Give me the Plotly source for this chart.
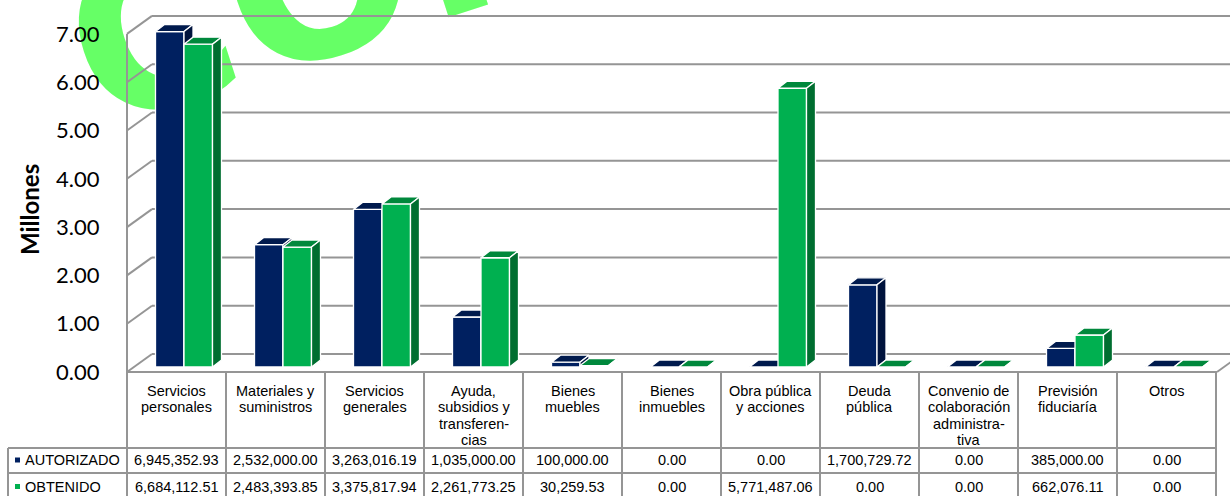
import plotly.graph_objects as go

# ---------------- data ----------------
categories = ["Servicios<br>personales", "Materiales y<br>suministros", "Servicios<br>generales",
              "Ayuda,<br>subsidios y<br>transferen-<br>cias", "Bienes<br>muebles", "Bienes<br>inmuebles",
              "Obra pública<br>y acciones", "Deuda<br>pública",
              "Convenio de<br>colaboración<br>administra-<br>tiva", "Previsión<br>fiduciaría", "Otros"]
series_names = ["AUTORIZADO", "OBTENIDO"]
autorizado = [6945352.93, 2532000.00, 3263016.19, 1035000.00, 100000.00, 0.00, 0.00,
              1700729.72, 0.00, 385000.00, 0.00]
obtenido = [6684112.51, 2483393.85, 3375817.94, 2261773.25, 30259.53, 0.00, 5771487.06,
            0.00, 0.00, 662076.11, 0.00]
y_ticks = [0, 1, 2, 3, 4, 5, 6, 7]
y_title = "Millones"
watermark = "COPIA"

# ---------------- geometry / style ----------------
W, H = 1230, 496
CAT_PX, X0_PX = 99.0, 176.5        # category width and first category centre (px)
UNIT_PX, BASE_PX = 48.3, 367.0     # px per million, bar base (px)
FRONT_PX, BACK_PX = 372.0, 354.0   # floor front / back edge
WALL_L, WALL_B = 127.0, 152.0      # left wall front / back x
TABLE_R = 1217.0


def xd(px):
    return (px - X0_PX) / CAT_PX


def yd(px):
    return (BASE_PX - px) / UNIT_PX


front_off = yd(FRONT_PX)
back_off = yd(BACK_PX)

styles = [
    dict(front="#002060", top="#001A4D", side="#00133D", off=(-21.0, 7.5)),
    dict(front="#00B050", top="#00883C", side="#006E30", off=(7.5, 36.0)),
]
DDX, DDY = 9.0 / CAT_PX, 7.0 / UNIT_PX
GRID = "#959595"
TXT_FONT = dict(family="Liberation Sans, Arial", size=14.5, color="#000000")

fig = go.Figure()

for s, vals in enumerate([autorizado, obtenido]):
    st = styles[s]
    fx, fy, tx, ty, sx, sy = [], [], [], [], [], []
    for i, val in enumerate(vals):
        v = val / 1e6
        x0 = i + st["off"][0] / CAT_PX
        x1 = i + st["off"][1] / CAT_PX
        fx += [x0, x1, x1, x0, x0, None]
        fy += [0, 0, v, v, 0, None]
        tx += [x0, x1, x1 + DDX, x0 + DDX, x0, None]
        ty += [v, v, v + DDY, v + DDY, v, None]
        sx += [x1, x1 + DDX, x1 + DDX, x1, x1, None]
        sy += [0, DDY, v + DDY, v, 0, None]
    for xs, ys, col in [(fx, fy, st["front"]), (tx, ty, st["top"]), (sx, sy, st["side"])]:
        fig.add_trace(go.Scatter(x=xs, y=ys, mode="lines", fill="toself", fillcolor=col,
                                 line=dict(color="white", width=1.3), name=series_names[s],
                                 hoverinfo="skip", showlegend=False))

# invisible trace for the tick-label axis
fig.add_trace(go.Scatter(x=[None], y=[None], yaxis="y2", showlegend=False, hoverinfo="skip"))

shapes = []
# watermark (behind everything)
WM_X, WM_Y = 432, -74
shapes.append(dict(type="rect", xref="paper", yref="paper", layer="below",
                   x0=(WM_X - 5) / W, x1=(WM_X + 5) / W, y0=1 - (WM_Y + 5) / H, y1=1 - (WM_Y - 5) / H,
                   line=dict(width=0), fillcolor="rgba(0,0,0,0)",
                   label=dict(text=watermark, textangle=-18, textposition="middle center",
                              font=dict(family="DejaVu Sans", size=220, color="#66FF66",
                                        weight="bold"))))
line_style = dict(color=GRID, width=2)
for t in y_ticks:
    shapes.append(dict(type="line", layer="below", x0=xd(WALL_B), x1=xd(W + 5),
                       y0=back_off + t, y1=back_off + t, line=line_style))
    shapes.append(dict(type="line", layer="below", x0=xd(WALL_L), x1=xd(WALL_B),
                       y0=front_off + t, y1=back_off + t, line=line_style))
shapes.append(dict(type="line", layer="below", x0=xd(WALL_L), x1=xd(WALL_L),
                   y0=front_off + y_ticks[0], y1=front_off + y_ticks[-1], line=line_style))
shapes.append(dict(type="line", layer="below", x0=xd(TABLE_R), x1=xd(TABLE_R + 25),
                   y0=front_off, y1=back_off, line=line_style))

# table grid
n = len(categories)
shapes.append(dict(type="line", x0=xd(WALL_L), x1=xd(TABLE_R), y0=yd(FRONT_PX), y1=yd(FRONT_PX), line=line_style))
for row_px in [448, 473, 497]:
    shapes.append(dict(type="line", x0=xd(8), x1=xd(TABLE_R), y0=yd(row_px), y1=yd(row_px), line=line_style))
for k in range(n + 1):
    shapes.append(dict(type="line", x0=k - 0.5, x1=k - 0.5, y0=yd(FRONT_PX), y1=yd(H + 5), line=line_style))
shapes.append(dict(type="line", x0=xd(8), x1=xd(8), y0=yd(448), y1=yd(H + 5), line=line_style))

annotations = []
for i, cat in enumerate(categories):
    for k, part in enumerate(cat.split("<br>")):
        annotations.append(dict(x=i, y=yd(391 + 16.3 * k), text=part, showarrow=False,
                                xanchor="center", yanchor="middle", font=TXT_FONT))
row_y = [460, 486.5]
for s, vals in enumerate([autorizado, obtenido]):
    for i, val in enumerate(vals):
        annotations.append(dict(x=i, y=yd(row_y[s]), text=f"{val:,.2f}", showarrow=False,
                                xanchor="center", yanchor="middle", font=TXT_FONT))
    annotations.append(dict(x=xd(23), y=yd(row_y[s]), text=series_names[s], showarrow=False,
                            xanchor="left", yanchor="middle", font=TXT_FONT))
    shapes.append(dict(type="rect", x0=xd(15), x1=xd(20), y0=yd(row_y[s] - 2.5), y1=yd(row_y[s] + 2.5),
                       line=dict(width=0), fillcolor=styles[s]["front"]))

annotations.append(dict(xref="paper", yref="paper", x=30 / W, y=1 - 210 / H, text=f"<b>{y_title}</b>",
                        textangle=-90, showarrow=False, xanchor="center", yanchor="middle",
                        font=dict(family="Lato", size=24, color="#000000")))

fig.update_layout(
    width=W, height=H, margin=dict(l=0, r=0, t=0, b=0),
    paper_bgcolor="white", plot_bgcolor="white", showlegend=False,
    xaxis=dict(range=[xd(0), xd(W)], visible=False, fixedrange=True),
    yaxis=dict(range=[yd(H), yd(0)], visible=False, fixedrange=True),
    yaxis2=dict(overlaying="y", anchor="free", position=WALL_L / W, side="left",
                range=[yd(H) - front_off, yd(0) - front_off], showgrid=False, zeroline=False,
                showline=False, ticks="outside", ticklen=23, tickcolor="rgba(0,0,0,0)",
                tickvals=y_ticks, tickformat=".2f",
                tickfont=dict(family="Lato", size=22, color="#000000"), fixedrange=True),
    shapes=shapes, annotations=annotations,
)

fig.write_html("out.html")
